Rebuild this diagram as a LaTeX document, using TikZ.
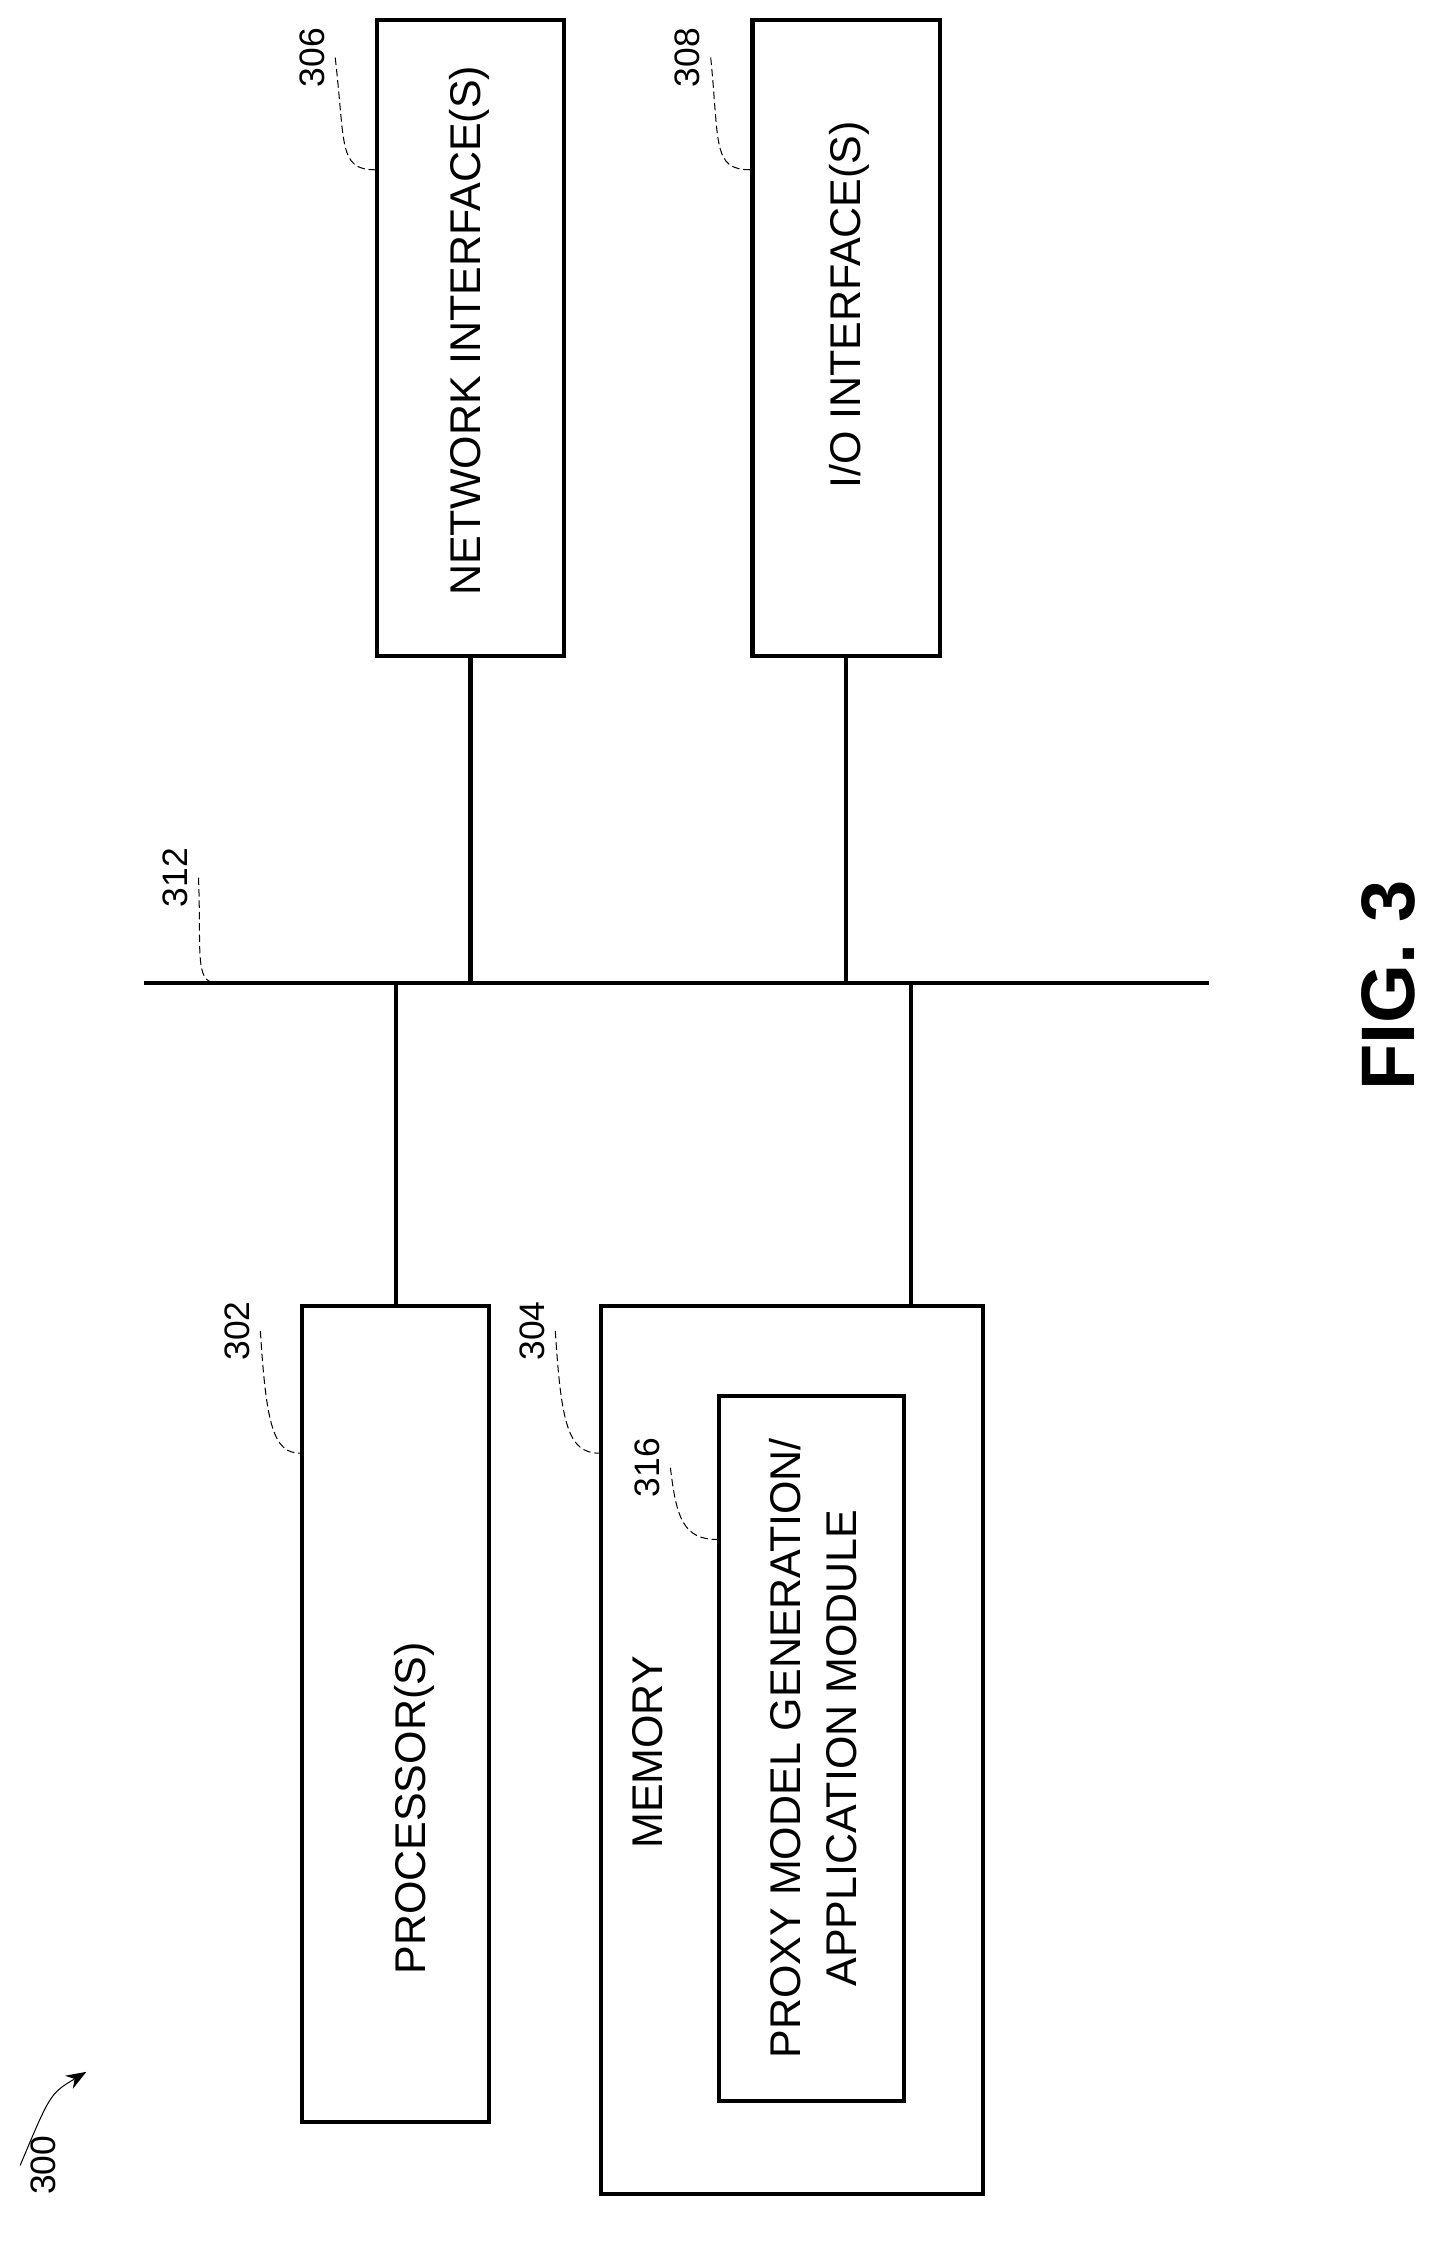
\documentclass[tikz,border=0pt]{standalone}
\usepackage{fontspec}
\setmainfont{Liberation Sans}
\usetikzlibrary{arrows.meta}
\tikzset{
	block/.style    = {draw, line width=1.6pt, rectangle, inner sep=0pt},
	boxtext/.style  = {rotate=90, font=\fontsize{17}{22}\selectfont, align=center},
	reflabel/.style = {rotate=90, font=\fontsize{14}{17}\selectfont},
	leader/.style   = {thin, dash pattern=on 3pt off 1.5pt},
}
\begin{document}
\begin{tikzpicture}[ x=0.02cm, y=-0.02cm,     %<--one unit is one pixel of the sketch
					line width=1.6pt,           %<--setting line style
					>={Stealth[length=8pt]} ]   %<--sets the arrowtype
	\useasboundingbox (0,0) rectangle (1000,1568);

	\draw%-----------------------------------------------------------------------------------------
	%Drawing the Blocks:
	node(net)  [block, minimum width=130*0.02cm, minimum height=442*0.02cm] at (327,235) {}
	node(io)   [block, minimum width=130*0.02cm, minimum height=442*0.02cm] at (588,235) {}
	node(proc) [block, minimum width=130*0.02cm, minimum height=567*0.02cm] at (275,1191.5) {}
	node(mem)  [block, minimum width=265*0.02cm, minimum height=617*0.02cm] at (550.5,1216.5) {}
	node(mod)  [block, minimum width=128*0.02cm, minimum height=490*0.02cm] at (564,1215) {}
	%Drawing the Texts:
	node[boxtext] at (326,230)  {NETWORK INTERFACE(S)}
	node[boxtext] at (590,212)  {I/O INTERFACE(S)}
	node[boxtext] at (288,1257) {PROCESSOR(S)}
	node[boxtext] at (450,1218) {MEMORY}
	node[boxtext] at (565,1215) {PROXY MODEL GENERATION/\\APPLICATION MODULE}
	%Drawing the Bus Ends:
	node[shape=coordinate](busL) at (100,683){}
	node[shape=coordinate](busR) at (840,683){}
	node[shape=coordinate](busT) at (150,683){}
	;%---------------------------------------------------------------------------------------------

	%Joining the Blocks
	\draw (busL) -- (busR);
	\draw (net.south)  -- (net.south |- busL);
	\draw (io.south)   -- (io.south |- busL);
	\draw (proc.north) -- (proc.north |- busL);
	\draw (633,908)    -- (633,683);

	%Reference numbers
	\node[reflabel] (l306) at (217,40)   {306};
	\node[reflabel] (l308) at (478,40)   {308};
	\node[reflabel] (l312) at (122,610)  {312};
	\node[reflabel] (l302) at (165,925)  {302};
	\node[reflabel] (l304) at (370,925)  {304};
	\node[reflabel] (l316) at (450,1020) {316};
	\node[reflabel] (l300) at (30,1505)  {300};
	\draw[leader] (l306.south) .. controls (240,100) and (235,118) .. (net.west |- 0,118);
	\draw[leader] (l308.south) .. controls (500,100) and (495,118) .. (io.west |- 0,118);
	\draw[leader] (l312.south) .. controls (140,660) and (135,683) .. (busT);
	\draw[leader] (l302.south) .. controls (185,990) and (190,1010) .. (proc.west |- 0,1010);
	\draw[leader] (l304.south) .. controls (390,990) and (395,1010) .. (mem.west |- 0,1010);
	\draw[leader] (l316.south) .. controls (470,1055) and (475,1070) .. (mod.west |- 0,1070);
	\draw[thin,->] (l300.north) .. controls (35,1455) .. (60,1440);

	\node[rotate=90, font=\bfseries\fontsize{30}{36}\selectfont] (fig) at (965,685) {FIG. 3};
\end{tikzpicture}
\end{document}
